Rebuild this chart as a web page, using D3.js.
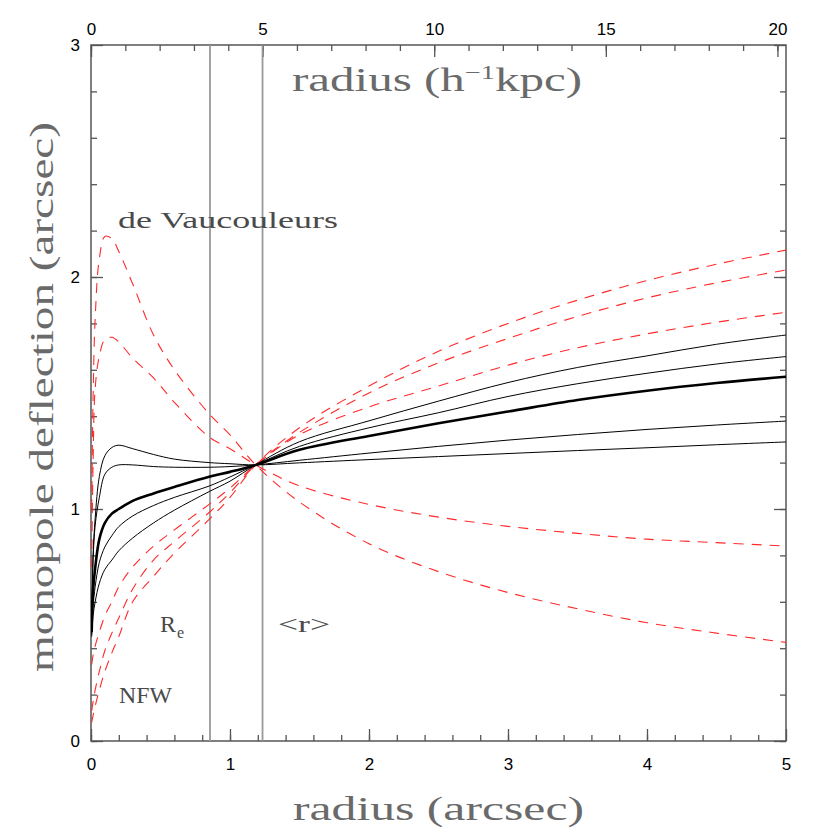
<!DOCTYPE html>
<html>
<head>
<meta charset="utf-8">
<script src="https://cdn.jsdelivr.net/npm/d3@7"></script>
<style>
  body { margin: 0; background: #fff; }
  .tick text { font-family: "Liberation Sans", Arial, sans-serif; font-size: 17px; fill: #000; }
  .tick line { stroke: #555; stroke-width: 1.3; }
  .label { font-family: "Liberation Serif", "Times New Roman", serif; fill: #6a6a6a; }
  .note { font-family: "Liberation Serif", "Times New Roman", serif; fill: #4a4a4a; }
</style>
</head>
<body>
<div class="chart"></div>
<script>
// Data (radius in arcsec, deflection in arcsec).
const radii = [0.005, 0.015, 0.03, 0.06, 0.1, 0.15, 0.2, 0.3, 0.45, 0.6, 0.85, 1.0, 1.185, 1.5, 2.0, 2.5, 3.0, 3.5, 4.0, 4.5, 5.0];

// de Vaucouleurs-like (red dashed, falling at large radius)
const deVauc1 = [1.0, 1.48, 1.82, 2.08, 2.175, 2.165, 2.11, 1.97, 1.75, 1.60, 1.41, 1.32, 1.19, 1.03, 0.85, 0.73, 0.64, 0.57, 0.51, 0.465, 0.425];
const deVauc2 = [0.75, 1.2, 1.52, 1.66, 1.73, 1.74, 1.72, 1.65, 1.565, 1.46, 1.31, 1.26, 1.19, 1.10, 1.02, 0.965, 0.925, 0.895, 0.87, 0.855, 0.84];

// NFW-like (red dashed, rising)
const nfw1 = [0.33, 0.37, 0.41, 0.47, 0.54, 0.60, 0.665, 0.75, 0.84, 0.91, 1.02, 1.09, 1.19, 1.32, 1.44, 1.53, 1.62, 1.695, 1.755, 1.805, 1.848];
const nfw2 = [0.13, 0.17, 0.22, 0.30, 0.39, 0.465, 0.53, 0.655, 0.78, 0.86, 0.985, 1.07, 1.19, 1.33, 1.50, 1.63, 1.735, 1.83, 1.91, 1.975, 2.03];
const nfw3 = [0.08, 0.11, 0.15, 0.22, 0.30, 0.38, 0.45, 0.60, 0.71, 0.81, 0.955, 1.05, 1.19, 1.35, 1.53, 1.68, 1.80, 1.90, 1.985, 2.055, 2.116];

// combined models (black solid); the bold one is the fiducial
const combo1 = [0.50, 0.80, 0.96, 1.14, 1.23, 1.265, 1.275, 1.26, 1.235, 1.215, 1.20, 1.195, 1.19, 1.199, 1.213, 1.226, 1.239, 1.252, 1.264, 1.277, 1.289];
const combo2 = [0.48, 0.78, 0.93, 1.05, 1.15, 1.18, 1.19, 1.19, 1.183, 1.18, 1.18, 1.183, 1.19, 1.21, 1.241, 1.27, 1.297, 1.321, 1.343, 1.362, 1.379];
const fiducial = [0.47, 0.65, 0.745, 0.87, 0.94, 0.98, 1.0, 1.035, 1.067, 1.095, 1.139, 1.16, 1.19, 1.255, 1.315, 1.37, 1.42, 1.47, 1.51, 1.543, 1.57];
const combo3 = [0.46, 0.58, 0.665, 0.77, 0.837, 0.885, 0.924, 0.97, 1.015, 1.05, 1.099, 1.138, 1.19, 1.27, 1.35, 1.415, 1.485, 1.54, 1.585, 1.625, 1.657];
const combo4 = [0.45, 0.54, 0.60, 0.68, 0.74, 0.78, 0.82, 0.875, 0.94, 0.995, 1.075, 1.12, 1.19, 1.29, 1.38, 1.465, 1.545, 1.61, 1.66, 1.71, 1.75];

const effectiveRadius = 0.856;   // R_e (arcsec)
const meanRadius = 1.234;        // <r> (arcsec)
const kpcPerArcsec = 4.05;

const xTicks = [0, 1, 2, 3, 4, 5];
const yTicks = [0, 1, 2, 3];
const kpcTicks = [0, 5, 10, 15, 20];

// Margin convention (plot box inside 830x830).
const margin = {top: 45, right: 44, bottom: 89, left: 91};
const width = 830 - margin.left - margin.right;
const height = 830 - margin.top - margin.bottom;

const xScale = d3.scaleLinear().domain([0, 5]).range([0, width]);
const yScale = d3.scaleLinear().domain([0, 3]).range([height, 0]);
const kpcScale = d3.scaleLinear().domain([0, 5 * kpcPerArcsec]).range([0, width]);

const svg = d3.select('.chart')
  .append('svg')
  .attr('width', 830)
  .attr('height', 830)
  .append('g')
  .attr('transform', `translate(${margin.left}, ${margin.top})`);

svg.append('clipPath').attr('id', 'clip')
  .append('rect').attr('width', width).attr('height', height);

// Axes: major and minor ticks pointing inward.
function drawAxis(axisFn, scale, majors, minors, transform, pad, withLabels) {
  svg.append('g')
    .attr('transform', transform)
    .call(axisFn(scale).tickValues(minors).tickSize(-6).tickFormat(''))
    .call(g => g.select('.domain').remove());
  const g = svg.append('g')
    .attr('transform', transform)
    .call(axisFn(scale).tickValues(majors).tickSize(-12).tickPadding(pad)
      .tickFormat(withLabels ? d3.format('d') : ''));
  g.select('.domain').remove();
  return g;
}

const minorX = d3.range(0, 25).map(i => i * 0.2);
const minorY = d3.range(0, 15).map(i => i * 0.2);
const minorKpc = d3.range(0, 21);

drawAxis(d3.axisBottom, xScale, xTicks, minorX, `translate(0,${height})`, 17, true);
drawAxis(d3.axisTop, kpcScale, kpcTicks, minorKpc, 'translate(0,0)', 10, true);
drawAxis(d3.axisLeft, yScale, yTicks, minorY, 'translate(0,0)', 11, true);
drawAxis(d3.axisRight, yScale, yTicks, minorY, `translate(${width},0)`, 10, false);

// Frame.
svg.append('rect')
  .attr('width', width)
  .attr('height', height)
  .style('fill', 'none')
  .style('stroke', '#555')
  .style('stroke-width', 1.5);

// Reference radii.
svg.selectAll('.vline')
  .data([effectiveRadius, meanRadius])
  .enter()
  .append('line')
  .attr('class', 'vline')
  .attr('x1', d => xScale(d))
  .attr('x2', d => xScale(d))
  .attr('y1', 0)
  .attr('y2', height)
  .style('stroke', '#999')
  .style('stroke-width', 1.8);

// Curves.
const line = d3.line()
  .x((d, i) => xScale(radii[i]))
  .y(d => yScale(d))
  .curve(d3.curveCatmullRom.alpha(0.5));

const curves = [
  {values: deVauc1, type: 'red'},
  {values: deVauc2, type: 'red'},
  {values: nfw1, type: 'red'},
  {values: nfw2, type: 'red'},
  {values: nfw3, type: 'red'},
  {values: combo1, type: 'black'},
  {values: combo2, type: 'black'},
  {values: combo3, type: 'black'},
  {values: combo4, type: 'black'},
  {values: fiducial, type: 'bold'}
];

svg.append('g')
  .attr('clip-path', 'url(#clip)')
  .selectAll('path')
  .data(curves)
  .enter()
  .append('path')
  .attr('d', d => line(d.values))
  .style('fill', 'none')
  .style('stroke', d => d.type === 'red' ? '#ff2a2a' : '#000')
  .style('stroke-width', d => d.type === 'bold' ? 2.6 : (d.type === 'red' ? 1.1 : 1))
  .style('stroke-dasharray', d => d.type === 'red' ? '10,8' : null);

// Axis titles.
svg.append('text')
  .attr('class', 'label')
  .attr('x', 202).attr('y', 775)
  .attr('textLength', 291).attr('lengthAdjust', 'spacingAndGlyphs')
  .style('font-size', '33px')
  .text('radius (arcsec)');

const topTitle = svg.append('text')
  .attr('class', 'label')
  .attr('x', 201).attr('y', 46)
  .style('font-size', '33px');
topTitle.append('tspan').text('radius (h');
topTitle.append('tspan').attr('dy', -12).style('font-size', '19px').text('−1');
topTitle.append('tspan').attr('dy', 12).text('kpc)');
topTitle.attr('textLength', 290).attr('lengthAdjust', 'spacingAndGlyphs');

svg.append('text')
  .attr('class', 'label')
  .attr('transform', `translate(-38, ${627}) rotate(-90)`)
  .attr('textLength', 550).attr('lengthAdjust', 'spacingAndGlyphs')
  .style('font-size', '33px')
  .text('monopole deflection (arcsec)');

// Annotations.
svg.append('text').attr('class', 'note')
  .attr('x', 27).attr('y', 183)
  .attr('textLength', 220).attr('lengthAdjust', 'spacingAndGlyphs')
  .style('font-size', '24px')
  .text('de Vaucouleurs');

svg.append('text').attr('class', 'note')
  .attr('x', 69).attr('y', 587)
  .style('font-size', '24px')
  .text('R');

svg.append('text').attr('class', 'note')
  .attr('x', 86).attr('y', 593)
  .style('font-size', '16px')
  .text('e');

svg.append('text').attr('class', 'note')
  .attr('x', 187).attr('y', 587)
  .attr('textLength', 52).attr('lengthAdjust', 'spacingAndGlyphs')
  .style('font-size', '24px')
  .text('<r>');

svg.append('text').attr('class', 'note')
  .attr('x', 28).attr('y', 658)
  .attr('textLength', 53).attr('lengthAdjust', 'spacingAndGlyphs')
  .style('font-size', '24px')
  .text('NFW');
</script>
</body>
</html>
